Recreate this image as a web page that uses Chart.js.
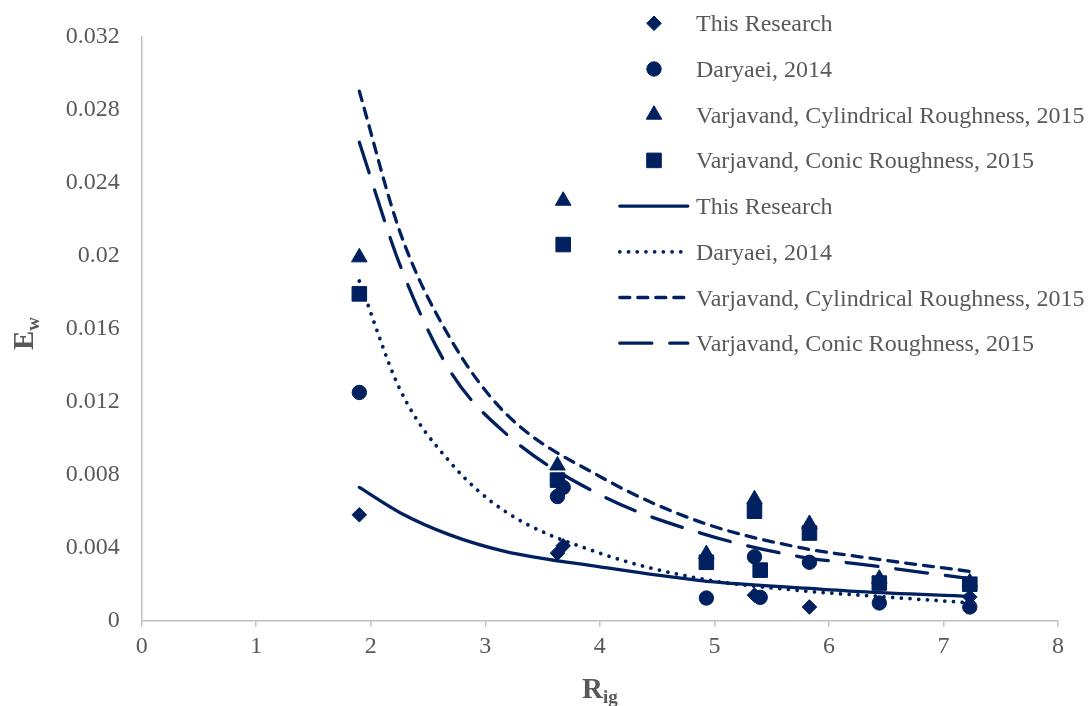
<!DOCTYPE html>
<html lang="en">
<head>
  <meta charset="UTF-8">
  <title>Ew vs Rig</title>
  <script src="https://cdn.jsdelivr.net/npm/chart.js"></script>
  <style>
    body {
      margin: 0;
      background-color: #ffffff;
    }
    #ewChart {
      display: block;
    }
  </style>
</head>
<body>
  <canvas id="ewChart" width="1089" height="706"></canvas>
  <script>
    const researchX = [1.9, 3.63, 3.68, 5.35, 5.83, 7.23];
    const researchY = [0.0058, 0.0037, 0.0041, 0.0014, 0.00075, 0.0013];

    const daryaeiX = [1.9, 3.63, 3.68, 4.93, 5.35, 5.40, 5.83, 6.44, 7.23];
    const daryaeiY = [0.0125, 0.0068, 0.0073, 0.00124, 0.0035, 0.00128, 0.0032, 0.00097, 0.00075];

    const cylX = [1.9, 3.63, 3.68, 4.93, 5.35, 5.83, 6.44, 7.23];
    const cylY = [0.0199, 0.0085, 0.0230, 0.00365, 0.00665, 0.0053, 0.0023, 0.0021];

    const conicX = [1.9, 3.63, 3.68, 4.93, 5.35, 5.40, 5.83, 6.44, 7.23];
    const conicY = [0.0179, 0.0077, 0.0206, 0.0032, 0.0060, 0.00277, 0.0048, 0.00206, 0.0020];

    // trend curves
    const trendX = [1.9, 2.26, 2.69, 3.17, 4.0, 4.88, 5.75, 6.27, 7.23];
    const researchTrend = [0.0073, 0.0059, 0.0047, 0.0038, 0.00295, 0.0022, 0.0018, 0.00159, 0.00133];
    const daryaeiTrend = [0.0186, 0.0126, 0.0087, 0.0060, 0.0037, 0.0023, 0.00165, 0.0014, 0.00098];
    const cylTrend = [0.0290, 0.0212, 0.0155, 0.0114, 0.0079, 0.0054, 0.0040, 0.0035, 0.0027];
    const conicTrend = [0.0262, 0.0194, 0.0137, 0.0103, 0.0069, 0.0048, 0.0035, 0.0031, 0.0023];

    const labels = [
      'This Research',
      'Daryaei, 2014',
      'Varjavand, Cylindrical Roughness, 2015',
      'Varjavand, Conic Roughness, 2015'
    ];

    const navy = '#002060';
    const textGrey = '#595959';
    const axisGrey = '#bfbfbf';
    const serif = "'Times New Roman', 'Liberation Serif', serif";

    function toPoints(xs, ys) {
      return xs.map((x, i) => ({ x: x, y: ys[i] }));
    }

    function markerSet(label, xs, ys, style, radius, order) {
      return {
        type: 'scatter',
        label: label,
        data: toPoints(xs, ys),
        pointStyle: style,
        pointRadius: radius,
        pointBackgroundColor: navy,
        pointBorderColor: navy,
        pointBorderWidth: 1,
        showLine: false,
        order: order
      };
    }

    function trendSet(label, ys, dash, width) {
      return {
        type: 'line',
        label: label,
        data: toPoints(trendX, ys),
        borderColor: navy,
        borderWidth: width,
        borderDash: dash,
        borderCapStyle: 'round',
        pointRadius: 0,
        fill: false,
        cubicInterpolationMode: 'monotone',
        showLine: true,
        order: 0
      };
    }

    const datasets = [
      markerSet(labels[0], researchX, researchY, 'rectRot', 7.3, 4),
      markerSet(labels[1], daryaeiX, daryaeiY, 'circle', 7.2, 3),
      markerSet(labels[2], cylX, cylY, 'triangle', 9, 2),
      markerSet(labels[3], conicX, conicY, 'rect', 10.3, 1),
      trendSet(labels[0], researchTrend, [], 3.3),
      trendSet(labels[1], daryaeiTrend, [0.01, 8.7], 3.8),
      trendSet(labels[2], cylTrend, [10, 8], 3.3),
      trendSet(labels[3], conicTrend, [32, 18], 3.3)
    ];

    // legend sits inside the plot, so draw it by hand
    const legendPlugin = {
      id: 'insideLegend',
      afterDraw(chart) {
        const ctx = chart.ctx;
        const rowTop = 23.3, rowGap = 45.7;
        ctx.save();
        datasets.forEach((ds, i) => {
          const y = rowTop + i * rowGap;
          ctx.fillStyle = navy;
          ctx.strokeStyle = navy;
          if (ds.type === 'scatter') {
            const opts = { pointStyle: ds.pointStyle, radius: ds.pointRadius, borderWidth: 1, rotation: 0 };
            ctx.lineWidth = 1;
            ctx.setLineDash([]);
            if (Chart.helpers && Chart.helpers.drawPoint) {
              Chart.helpers.drawPoint(ctx, opts, 654, y);
            }
          } else {
            ctx.lineWidth = ds.borderWidth;
            ctx.lineCap = 'round';
            ctx.setLineDash(ds.borderDash);
            ctx.beginPath();
            ctx.moveTo(619.8, y);
            ctx.lineTo(687.8, y);
            ctx.stroke();
            ctx.setLineDash([]);
          }
          ctx.fillStyle = textGrey;
          ctx.font = '24px ' + serif;
          ctx.textAlign = 'left';
          ctx.textBaseline = 'alphabetic';
          ctx.fillText(ds.label, 696, y + 8);
        });
        ctx.restore();
      }
    };

    // axis titles with subscripts
    const titlePlugin = {
      id: 'axisTitles',
      afterDraw(chart) {
        const ctx = chart.ctx;
        const area = chart.chartArea;
        ctx.save();
        ctx.fillStyle = textGrey;
        ctx.textBaseline = 'alphabetic';
        ctx.textAlign = 'left';

        // R_ig under the x axis
        ctx.font = 'bold 29px ' + serif;
        const rW = ctx.measureText('R').width;
        ctx.font = 'bold 19px ' + serif;
        const igW = ctx.measureText('ig').width;
        let x0 = (area.left + area.right) / 2 - (rW + igW) / 2;
        const base = area.bottom + 77;
        ctx.font = 'bold 29px ' + serif;
        ctx.fillText('R', x0, base);
        ctx.font = 'bold 19px ' + serif;
        ctx.fillText('ig', x0 + rW, base + 5);

        // E_w beside the y axis
        ctx.translate(area.left - 109, (area.top + area.bottom) / 2 + 5);
        ctx.rotate(-Math.PI / 2);
        ctx.font = 'bold 29px ' + serif;
        const eW = ctx.measureText('E').width;
        ctx.font = 'bold 19px ' + serif;
        const wW = ctx.measureText('w').width;
        x0 = -(eW + wW) / 2;
        ctx.font = 'bold 29px ' + serif;
        ctx.fillText('E', x0, 0);
        ctx.font = 'bold 19px ' + serif;
        ctx.fillText('w', x0 + eW, 6);
        ctx.restore();
      }
    };

    const ctx = document.getElementById('ewChart').getContext('2d');
    new Chart(ctx, {
      type: 'scatter',
      data: { datasets: datasets },
      options: {
        responsive: false,
        animation: false,
        layout: {
          padding: { top: 36, right: 31, bottom: 0, left: 0 }
        },
        scales: {
          x: {
            type: 'linear',
            min: 0,
            max: 8,
            ticks: {
              stepSize: 1,
              color: textGrey,
              padding: 6,
              font: { family: serif, size: 24 }
            },
            grid: {
              display: true,
              drawOnChartArea: false,
              drawTicks: true,
              tickLength: 6,
              color: axisGrey,
              lineWidth: 1.5
            },
            border: { display: true, color: axisGrey, width: 1.5 },
            afterFit(scale) { scale.height = 85.3; }
          },
          y: {
            type: 'linear',
            min: 0,
            max: 0.032,
            ticks: {
              stepSize: 0.004,
              color: textGrey,
              padding: 22,
              font: { family: serif, size: 24 },
              callback: v => String(parseFloat(v.toFixed(3)))
            },
            grid: { display: false, drawTicks: false },
            border: { display: true, color: axisGrey, width: 1.5 },
            afterFit(scale) { scale.width = 141.7; }
          }
        },
        plugins: {
          legend: { display: false },
          tooltip: { enabled: false }
        }
      },
      plugins: [legendPlugin, titlePlugin]
    });
  </script>
</body>
</html>
